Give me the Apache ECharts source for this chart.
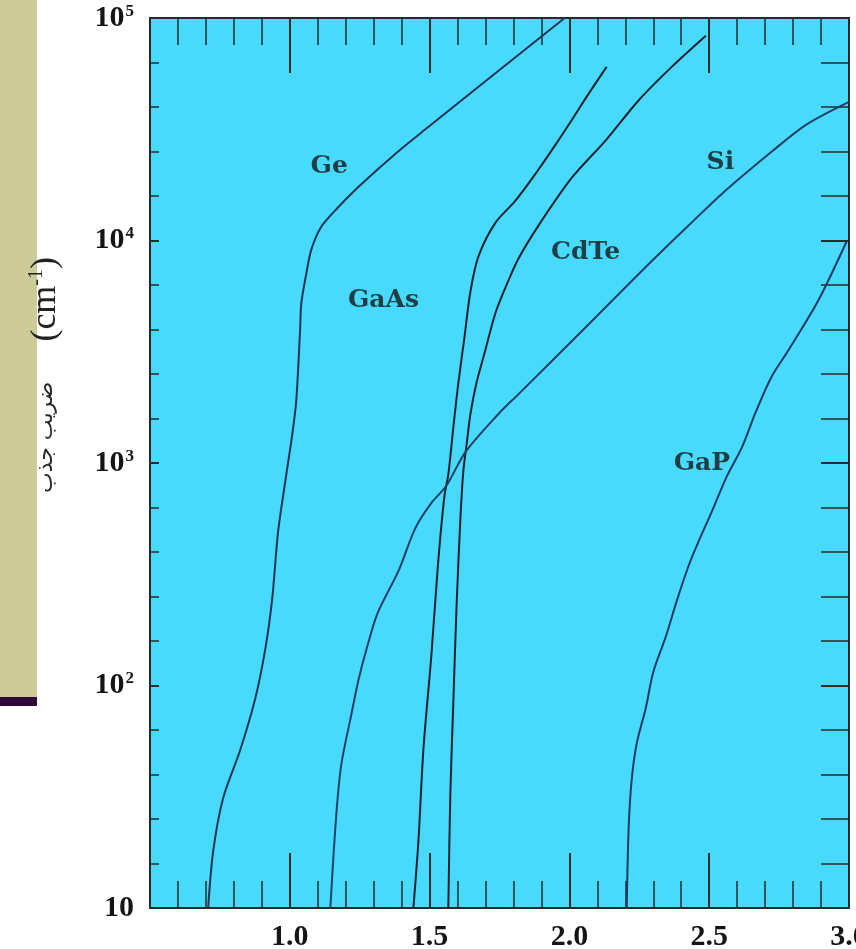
<!DOCTYPE html>
<html>
<head>
<meta charset="utf-8">
<script src="https://cdn.jsdelivr.net/npm/echarts@6/dist/echarts.min.js"></script>
<style>
  html, body { margin: 0; padding: 0; background: #ffffff; }
  #chart { width: 856px; height: 949px; }
</style>
</head>
<body>
<div id="chart"></div>
<script>
// Absorption coefficient (cm^-1) against photon energy (eV) for common semiconductors
const geData = [
  [0.708, 10], [0.726, 18], [0.761, 31], [0.822, 51], [0.876, 87], [0.912, 145],
  [0.937, 245], [0.958, 490], [0.984, 830], [1.009, 1350], [1.023, 1900],
  [1.037, 4000], [1.041, 5200], [1.059, 7100], [1.077, 9100], [1.112, 11500],
  [1.173, 14100], [1.245, 17400], [1.377, 24500], [1.485, 31600], [1.983, 100000]
];
const gaAsData = [
  [1.442, 10], [1.46, 20], [1.478, 52], [1.506, 135], [1.53, 350], [1.553, 710],
  [1.567, 890], [1.585, 1450], [1.603, 2300], [1.625, 3700], [1.646, 5900],
  [1.675, 8500], [1.735, 12000], [1.807, 15100], [1.89, 20900], [1.95, 26900],
  [2.008, 34700], [2.069, 45700], [2.133, 60300]
];
const cdTeData = [
  [1.567, 10], [1.574, 32], [1.585, 85], [1.596, 220], [1.61, 560], [1.621, 930],
  [1.632, 1200], [1.646, 1660], [1.668, 2300], [1.70, 3240], [1.735, 4700],
  [1.775, 6300], [1.818, 8300], [1.89, 11700], [2.008, 19100], [2.13, 28200],
  [2.248, 42700], [2.366, 60300], [2.488, 83200]
];
const siData = [
  [1.145, 10], [1.166, 26], [1.184, 44], [1.22, 74], [1.245, 105], [1.274, 145],
  [1.313, 210], [1.39, 330], [1.449, 510], [1.506, 660], [1.56, 790], [1.628, 1120],
  [1.746, 1660], [1.818, 2040], [2.069, 4200], [2.273, 7600], [2.427, 11700],
  [2.545, 16200], [2.724, 25100], [2.846, 33100], [3.0, 42000]
];
const gaPData = [
  [2.205, 10], [2.212, 23], [2.223, 38], [2.241, 55], [2.273, 79], [2.30, 115],
  [2.345, 166], [2.384, 240], [2.427, 347], [2.463, 447], [2.509, 603], [2.563, 871],
  [2.617, 1175], [2.667, 1700], [2.724, 2455], [2.785, 3236], [2.89, 5370], [2.993, 10000]
];

// Curve names and where each name is written (energy, coefficient)
const curveNames = ['Ge', 'GaAs', 'CdTe', 'Si', 'GaP'];
const curveNameX = [1.141, 1.335, 2.058, 2.54, 2.474];
const curveNameY = [21500, 5370, 8790, 22400, 1000];

// Axis ranges
const energyMin = 0.5, energyMax = 3.0, energyStep = 0.5;
const alphaMin = 10, alphaMax = 100000;
// decades (log10 of the coefficient) used for the evenly spaced tick ruler
const decadeMin = 1, decadeMax = 5;

const axisTitleFa = 'ضریب جذب';
const axisUnit = '(cm';
const axisUnitExp = '-1';

const serif = '"Liberation Serif", "DejaVu Serif", serif';
const ink = '#151515';
const frame = '#2a2a2a';

const chart = echarts.init(document.getElementById('chart'));

function lineSeries(name, data, color) {
  return {
    name: name, type: 'line', data: data, xAxisIndex: 0, yAxisIndex: 0,
    showSymbol: false, smooth: 0.3, silent: true,
    lineStyle: { color: color, width: 2 }
  };
}

function xAxisDef(pos, showLabels) {
  return {
    type: 'value', position: pos, min: energyMin, max: energyMax, interval: energyStep,
    axisLine: { show: true, onZero: false, lineStyle: { color: frame, width: 2 } },
    axisTick: { show: true, inside: true, length: 55, lineStyle: { color: frame, width: 2 } },
    minorTick: { show: true, splitNumber: 5, length: 27, lineStyle: { color: frame, width: 1.5 } },
    splitLine: { show: false },
    axisLabel: {
      show: showLabels, showMinLabel: false, margin: 14,
      fontFamily: serif, fontWeight: 'bold', fontSize: 30, color: ink,
      formatter: v => v.toFixed(1)
    }
  };
}

// tick ruler along a vertical edge, evenly spaced per decade
function decadeRuler(pos, tickLen) {
  return {
    type: 'value', position: pos, min: decadeMin, max: decadeMax, interval: 1,
    axisLine: { show: true, onZero: false, lineStyle: { color: frame, width: 2 } },
    axisTick: { show: true, inside: true, length: tickLen, lineStyle: { color: frame, width: 2 } },
    minorTick: { show: true, splitNumber: 5, length: tickLen, lineStyle: { color: frame, width: 1.5 } },
    splitLine: { show: false },
    axisLabel: { show: false }
  };
}

const nameData = curveNames.map((n, i) => [curveNameX[i], curveNameY[i], n]);

const option = {
  animation: false,
  backgroundColor: '#ffffff',
  grid: {
    left: 150, right: 7, top: 18, bottom: 41,
    outerBoundsMode: 'none', containLabel: false,
    show: true, backgroundColor: '#47dafd', borderWidth: 0
  },
  xAxis: [xAxisDef('bottom', true), xAxisDef('top', false)],
  yAxis: [
    {
      type: 'log', logBase: 10, position: 'left', min: alphaMin, max: alphaMax,
      axisLine: { show: false },
      axisTick: { show: false },
      minorTick: { show: false },
      splitLine: { show: false },
      axisLabel: {
        margin: 16,
        formatter: v => {
          const e = Math.round(Math.log10(v));
          return e === 1 ? '{b|10}' : '{b|10}{s|' + e + '}';
        },
        rich: {
          b: { fontFamily: serif, fontWeight: 'bold', fontSize: 30, color: ink, lineHeight: 30 },
          s: { fontFamily: serif, fontWeight: 'bold', fontSize: 17, color: ink, lineHeight: 17,
               verticalAlign: 'top', padding: [0, 0, 0, 1] }
        }
      }
    },
    decadeRuler('left', 9),
    decadeRuler('right', 28)
  ],
  series: [
    lineSeries('Ge', geData, '#1f3552'),
    lineSeries('GaAs', gaAsData, '#1a2230'),
    lineSeries('CdTe', cdTeData, '#1a2230'),
    lineSeries('Si', siData, '#243f66'),
    lineSeries('GaP', gaPData, '#1e3a63'),
    {
      name: 'names', type: 'scatter', data: nameData, xAxisIndex: 0, yAxisIndex: 0,
      symbolSize: 1, silent: true,
      itemStyle: { color: 'rgba(0,0,0,0)' },
      label: {
        show: true, position: 'inside',
        formatter: p => p.data[2],
        fontFamily: '"DejaVu Serif", serif', fontWeight: 'bold', fontSize: 25, color: ink
      }
    }
  ],
  graphic: [
    { type: 'rect', left: 0, top: 0, shape: { width: 37, height: 697 },
      style: { fill: '#cdcb98' }, z: 0 },
    { type: 'rect', left: 0, top: 697, shape: { width: 37, height: 9 },
      style: { fill: '#300838' }, z: 0 },
    {
      type: 'text', x: 46, y: 375, rotation: Math.PI / 2, z: 10,
      style: {
        text: '{f|' + axisTitleFa + '}{u|' + axisUnit + '}{e|' + axisUnitExp + '}{u|)}',
        align: 'center', verticalAlign: 'middle',
        rich: {
          f: { fontFamily: '"DejaVu Sans", sans-serif', fontSize: 22, fill: '#2a2a2a',
               lineHeight: 38, padding: [0, 40, 0, 0] },
          u: { fontFamily: serif, fontSize: 36, fill: '#222', lineHeight: 38 },
          e: { fontFamily: serif, fontSize: 20, fill: '#222', lineHeight: 20, verticalAlign: 'top' }
        }
      }
    }
  ]
};

chart.setOption(option);
</script>
</body>
</html>
